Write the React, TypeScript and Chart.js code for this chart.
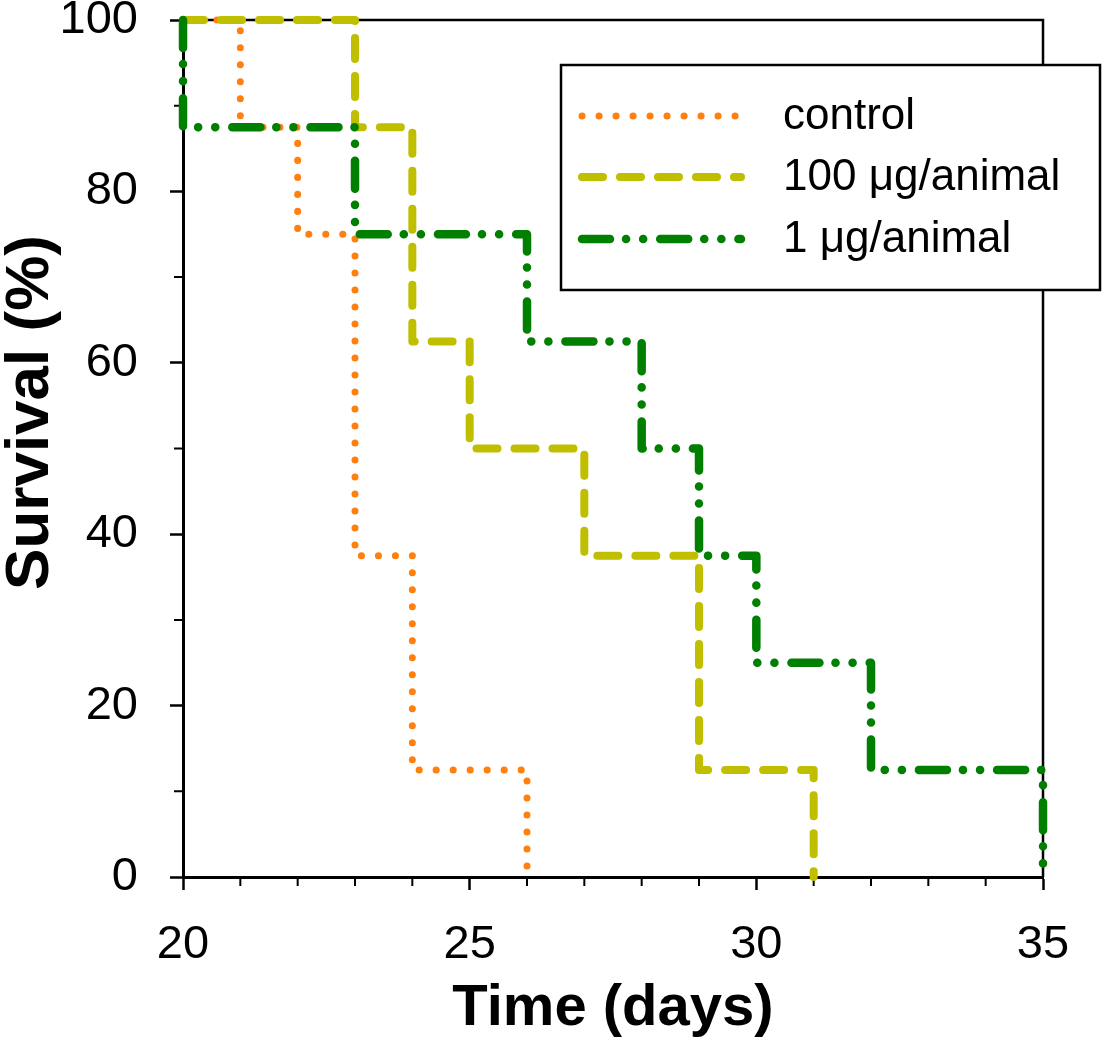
import { useEffect, useRef } from "react";
import { Chart, registerables } from "chart.js";

Chart.register(...registerables);

// Kaplan-Meier style survival steps (day of drop, survival after drop)
const legendLabels = ["control", "100 μg/animal", "1 μg/animal"];
const controlDays = [20, 21, 22, 23, 24, 26];
const controlSurvival = [100, 87.5, 75, 37.5, 12.5, 0];
const highDoseDays = [20, 23, 24, 25, 27, 29, 31];
const highDoseSurvival = [100, 87.5, 62.5, 50, 37.5, 12.5, 0];
const lowDoseDays = [20, 20, 23, 26, 28, 29, 30, 32, 35];
const lowDoseSurvival = [100, 87.5, 75, 62.5, 50, 37.5, 25, 12.5, 0];
const xMinorTicks = [21, 22, 23, 24, 26, 27, 28, 29, 31, 32, 33, 34];
const yMinorTicks = [10, 30, 50, 70, 90];

const FONT = "'Liberation Sans', Arial, sans-serif";

const toPoints = (xs: number[], ys: number[]) => xs.map((x, i) => ({ x, y: ys[i] }));

const decorations = {
  id: "decorations",
  beforeDatasetsDraw(chart: any) {
    const { ctx, chartArea: a } = chart;
    ctx.save();
    ctx.strokeStyle = "#000";
    ctx.lineWidth = 2.5;
    ctx.beginPath();
    ctx.moveTo(a.left, a.top);
    ctx.lineTo(a.right, a.top);
    ctx.lineTo(a.right, a.bottom);
    ctx.stroke();

    const xs = chart.scales.x;
    const ys = chart.scales.y;
    ctx.lineWidth = 2;
    ctx.beginPath();
    xMinorTicks.forEach((v) => {
      const p = xs.getPixelForValue(v);
      ctx.moveTo(p, a.bottom);
      ctx.lineTo(p, a.bottom + 9);
    });
    yMinorTicks.forEach((v) => {
      const p = ys.getPixelForValue(v);
      ctx.moveTo(a.left, p);
      ctx.lineTo(a.left - 9, p);
    });
    ctx.stroke();
    ctx.restore();
  },
  afterDatasetsDraw(chart: any) {
    const { ctx, chartArea: a } = chart;
    const left = a.right - 482;
    const right = a.right + 57;
    const top = a.top + 45;
    const bottom = a.top + 270;
    const rows = [top + 51, top + 112, top + 174];

    ctx.save();
    ctx.fillStyle = "#fff";
    ctx.fillRect(left, top, right - left, bottom - top);
    ctx.strokeStyle = "#000";
    ctx.lineWidth = 2.5;
    ctx.strokeRect(left, top, right - left, bottom - top);

    chart.data.datasets.forEach((ds: any, i: number) => {
      ctx.save();
      ctx.strokeStyle = ds.borderColor;
      ctx.lineWidth = ds.borderWidth;
      ctx.lineCap = "round";
      ctx.setLineDash(ds.borderDash);
      ctx.beginPath();
      ctx.moveTo(left + 21, rows[i]);
      ctx.lineTo(left + 180, rows[i]);
      ctx.stroke();
      ctx.restore();

      ctx.fillStyle = "#000";
      ctx.font = `44px ${FONT}`;
      ctx.textBaseline = "middle";
      ctx.textAlign = "left";
      ctx.fillText(ds.label, left + 222, rows[i] + 1);
    });
    ctx.restore();
  },
  afterDraw(chart: any) {
    const { ctx, chartArea: a } = chart;
    ctx.save();
    ctx.translate(48, (a.top + a.bottom) / 2 - 36);
    ctx.rotate(-Math.PI / 2);
    ctx.font = `bold 62px ${FONT}`;
    ctx.fillStyle = "#000";
    ctx.textAlign = "center";
    ctx.textBaseline = "alphabetic";
    ctx.fillText("Survival (%)", 0, 0);
    ctx.restore();
  },
};

const SurvivalChart = () => {
  const chartRef: any = useRef(null);
  useEffect(() => {
    const ctx = chartRef.current.getContext("2d");

    const theChart = new Chart(ctx, {
      type: "line",
      data: {
        datasets: [
          {
            label: legendLabels[0],
            data: toPoints(controlDays, controlSurvival),
            borderColor: "#FF7F0F",
            borderWidth: 7,
            borderDash: [0.1, 16.9],
            borderCapStyle: "round",
            borderJoinStyle: "round",
            stepped: "before",
            pointRadius: 0,
            fill: false,
            clip: 10,
            order: 3,
          },
          {
            label: legendLabels[1],
            data: toPoints(highDoseDays, highDoseSurvival),
            borderColor: "#BFBF00",
            borderWidth: 8,
            borderDash: [21, 17],
            borderCapStyle: "round",
            borderJoinStyle: "round",
            stepped: "before",
            pointRadius: 0,
            fill: false,
            clip: 10,
            order: 2,
          },
          {
            label: legendLabels[2],
            data: toPoints(lowDoseDays, lowDoseSurvival),
            borderColor: "#007F00",
            borderWidth: 8.5,
            borderDash: [28, 16, 0.1, 17, 0.1, 17],
            borderCapStyle: "round",
            borderJoinStyle: "round",
            stepped: "before",
            pointRadius: 0,
            fill: false,
            clip: 10,
            order: 1,
          },
        ],
      } as any,
      options: {
        animation: false,
        responsive: true,
        maintainAspectRatio: false,
        layout: {
          padding: { top: 20, right: 60, left: 0, bottom: 0 },
        },
        plugins: {
          legend: { display: false },
          tooltip: { enabled: false },
        },
        scales: {
          x: {
            type: "linear",
            min: 20,
            max: 35,
            afterFit: (s: any) => {
              s.height = 167;
              s.paddingLeft = 0;
              s.paddingRight = 0;
            },
            ticks: {
              stepSize: 5,
              color: "#000",
              padding: 36,
              font: { family: FONT, size: 47, lineHeight: 0.8 },
              maxRotation: 0,
            },
            grid: {
              drawOnChartArea: false,
              drawTicks: true,
              tickLength: 13,
              tickWidth: 2.5,
              tickColor: "#000",
            },
            border: { display: true, color: "#000", width: 3 },
            title: {
              display: true,
              text: "Time (days)",
              color: "#000",
              font: { family: FONT, size: 58, weight: "bold", lineHeight: 1.2 },
              padding: 0,
            },
          },
          y: {
            type: "linear",
            min: 0,
            max: 100,
            afterFit: (s: any) => {
              s.width = 183;
              s.paddingTop = 0;
              s.paddingBottom = 0;
            },
            ticks: {
              stepSize: 20,
              color: "#000",
              padding: 32,
              font: { family: FONT, size: 47, lineHeight: 0.8 },
            },
            grid: {
              drawOnChartArea: false,
              drawTicks: true,
              tickLength: 13,
              tickWidth: 2.5,
              tickColor: "#000",
            },
            border: { display: true, color: "#000", width: 3 },
          },
        },
      } as any,
      plugins: [decorations],
    });

    return () => {
      theChart.destroy();
    };
  }, []);

  return (
    <div style={{ position: "absolute", left: 0, top: 0, width: 1103, height: 1044, background: "#fff" }}>
      <canvas ref={chartRef} />
    </div>
  );
};

export default function App() {
  return <SurvivalChart />;
}
